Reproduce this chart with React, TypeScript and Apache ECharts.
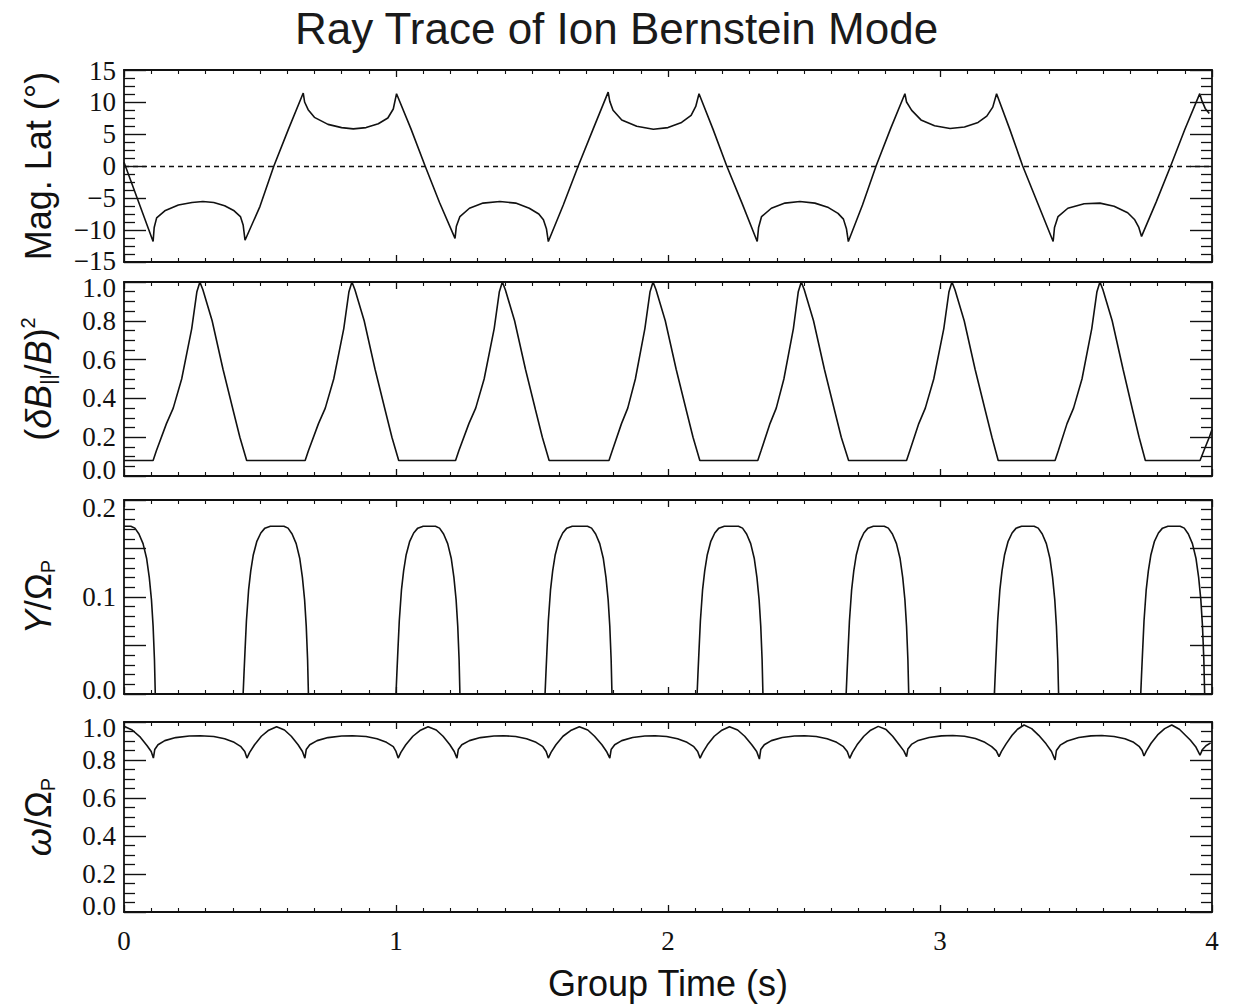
import React, { useEffect, useRef } from "react";
import * as echarts from "echarts";

// ---------------- data ----------------
const TITLE = "Ray Trace of Ion Bernstein Mode";
const X_NAME = "Group Time (s)";
const X_RANGE = [0, 4];

const Y_NAMES = [
  "Mag. Lat (°)",
  "({i|δB}{sub|||}/{i|B}){sup|2}",
  "{i|Y}/Ω{sub|P}",
  "{i|ω}/Ω{sub|P}",
];

// Magnetic latitude (deg) vs group time (s)
const magLat: [number, number][] = [
  [0.0, 0.6], [0.05, -5.2], [0.107, -11.8],
  [0.111, -9.6], [0.12, -8.1], [0.15, -7.0], [0.2, -6.1], [0.25, -5.7], [0.29, -5.55], [0.33, -5.7], [0.37, -6.2], [0.405, -7.0], [0.428, -7.9], [0.438, -9.2], [0.445, -11.6],
  [0.5, -6.3], [0.551, 0], [0.605, 5.8], [0.659, 11.4],
  [0.664, 10.0], [0.677, 8.8], [0.7, 7.6], [0.75, 6.5], [0.8, 6.0], [0.843, 5.8], [0.89, 6.0], [0.935, 6.6], [0.97, 7.5], [0.99, 8.9], [1.002, 11.3],
  [1.055, 5.8], [1.107, 0], [1.16, -5.7], [1.217, -11.3],
  [1.222, -9.4], [1.235, -7.9], [1.27, -6.6], [1.32, -5.8], [1.382, -5.55], [1.44, -5.8], [1.49, -6.6], [1.525, -7.5], [1.542, -8.4], [1.553, -9.8], [1.56, -11.8],
  [1.615, -6.1], [1.67, 0], [1.725, 5.8], [1.78, 11.55],
  [1.786, 10.1], [1.798, 8.7], [1.83, 7.2], [1.885, 6.2], [1.946, 5.75], [2.0, 6.0], [2.05, 6.8], [2.085, 7.9], [2.102, 9.3], [2.114, 11.3],
  [2.165, 5.8], [2.216, 0], [2.272, -5.8], [2.328, -11.8],
  [2.333, -9.6], [2.344, -7.9], [2.38, -6.6], [2.43, -5.8], [2.485, -5.55], [2.54, -5.8], [2.59, -6.5], [2.625, -7.4], [2.645, -8.3], [2.656, -9.8], [2.663, -11.8],
  [2.715, -6.1], [2.765, 0], [2.818, 5.8], [2.871, 11.3],
  [2.877, 10.0], [2.896, 8.7], [2.93, 7.2], [2.98, 6.3], [3.037, 5.86], [3.09, 6.1], [3.14, 6.8], [3.172, 7.8], [3.194, 9.2], [3.208, 11.3],
  [3.256, 5.8], [3.304, 0], [3.36, -5.9], [3.416, -11.8],
  [3.421, -9.6], [3.434, -7.9], [3.47, -6.6], [3.53, -5.9], [3.588, -5.8], [3.64, -6.3], [3.69, -7.3], [3.716, -8.4], [3.731, -9.6], [3.741, -11.0],
  [3.795, -5.6], [3.848, 0], [3.9, 5.7], [3.955, 11.3],
  [3.962, 10.3], [3.975, 9.0], [3.99, 8.2],
];

// (dB_par / B)^2
const dbPar: [number, number][] = [
  [0, 0.08], [0.107, 0.08],
  [0.119, 0.13], [0.156, 0.27], [0.181, 0.35], [0.212, 0.5], [0.249, 0.76], [0.268, 0.95], [0.279, 1.0], [0.29, 0.96],
  [0.324, 0.8], [0.364, 0.55], [0.401, 0.34], [0.426, 0.2], [0.451, 0.08],
  [0.666, 0.08],
  [0.678, 0.13], [0.715, 0.27], [0.74, 0.35], [0.771, 0.5], [0.808, 0.76], [0.827, 0.95], [0.838, 1.0], [0.849, 0.96],
  [0.883, 0.8], [0.923, 0.55], [0.96, 0.34], [0.985, 0.2], [1.01, 0.08],
  [1.219, 0.08],
  [1.231, 0.13], [1.268, 0.27], [1.293, 0.35], [1.324, 0.5], [1.361, 0.76], [1.38, 0.95], [1.391, 1.0], [1.402, 0.96],
  [1.436, 0.8], [1.476, 0.55], [1.513, 0.34], [1.538, 0.2], [1.563, 0.08],
  [1.783, 0.08],
  [1.795, 0.13], [1.829, 0.27], [1.852, 0.35], [1.88, 0.5], [1.915, 0.76], [1.934, 0.95], [1.945, 1.0], [1.956, 0.96],
  [1.99, 0.8], [2.03, 0.55], [2.067, 0.34], [2.092, 0.2], [2.117, 0.08],
  [2.33, 0.08],
  [2.342, 0.13], [2.375, 0.27], [2.398, 0.35], [2.426, 0.5], [2.461, 0.76], [2.479, 0.95], [2.49, 1.0], [2.501, 0.96],
  [2.535, 0.8], [2.575, 0.55], [2.612, 0.34], [2.637, 0.2], [2.664, 0.08],
  [2.877, 0.08],
  [2.889, 0.13], [2.922, 0.27], [2.946, 0.35], [2.977, 0.5], [3.014, 0.76], [3.033, 0.95], [3.044, 1.0], [3.055, 0.96],
  [3.089, 0.8], [3.129, 0.55], [3.166, 0.34], [3.191, 0.2], [3.214, 0.08],
  [3.423, 0.08],
  [3.435, 0.13], [3.467, 0.27], [3.491, 0.35], [3.522, 0.5], [3.558, 0.76], [3.577, 0.95], [3.588, 1.0], [3.599, 0.96],
  [3.633, 0.8], [3.673, 0.55], [3.708, 0.34], [3.732, 0.2], [3.755, 0.08],
  [3.956, 0.08], [3.97, 0.13], [3.99, 0.2], [4.0, 0.24],
];

// gamma / Omega_p
const gammaRate: [number, number][] = [
  [0, 0.173], [0.025, 0.173], [0.04, 0.171], [0.055, 0.165], [0.07, 0.155], [0.083, 0.14], [0.093, 0.12], [0.101, 0.097], [0.107, 0.07], [0.112, 0.035], [0.115, 0],
  [0.438, 0], [0.441, 0.02], [0.445, 0.045], [0.45, 0.075], [0.458, 0.107], [0.466, 0.127], [0.475, 0.143], [0.488, 0.157], [0.503, 0.166], [0.518, 0.171], [0.538, 0.173],
  [0.588, 0.173], [0.603, 0.171], [0.618, 0.165], [0.633, 0.155], [0.646, 0.14], [0.656, 0.12], [0.664, 0.097], [0.67, 0.07], [0.675, 0.035], [0.678, 0],
  [1.0, 0], [1.003, 0.02], [1.007, 0.045], [1.012, 0.075], [1.02, 0.107], [1.028, 0.127], [1.037, 0.143], [1.05, 0.157], [1.065, 0.166], [1.08, 0.171], [1.1, 0.173],
  [1.145, 0.173], [1.16, 0.171], [1.175, 0.165], [1.19, 0.155], [1.203, 0.14], [1.213, 0.12], [1.221, 0.097], [1.227, 0.07], [1.232, 0.035], [1.235, 0],
  [1.548, 0], [1.551, 0.02], [1.555, 0.045], [1.56, 0.075], [1.568, 0.107], [1.576, 0.127], [1.585, 0.143], [1.598, 0.157], [1.613, 0.166], [1.628, 0.171], [1.648, 0.173],
  [1.704, 0.173], [1.719, 0.171], [1.734, 0.165], [1.749, 0.155], [1.762, 0.14], [1.772, 0.12], [1.78, 0.097], [1.786, 0.07], [1.791, 0.035], [1.794, 0],
  [2.107, 0], [2.11, 0.02], [2.114, 0.045], [2.119, 0.075], [2.127, 0.107], [2.135, 0.127], [2.144, 0.143], [2.157, 0.157], [2.172, 0.166], [2.187, 0.171], [2.207, 0.173],
  [2.259, 0.173], [2.274, 0.171], [2.289, 0.165], [2.304, 0.155], [2.317, 0.14], [2.327, 0.12], [2.335, 0.097], [2.341, 0.07], [2.346, 0.035], [2.349, 0],
  [2.655, 0], [2.658, 0.02], [2.662, 0.045], [2.667, 0.075], [2.675, 0.107], [2.683, 0.127], [2.692, 0.143], [2.705, 0.157], [2.72, 0.166], [2.735, 0.171], [2.755, 0.173],
  [2.795, 0.173], [2.81, 0.171], [2.825, 0.165], [2.84, 0.155], [2.853, 0.14], [2.863, 0.12], [2.871, 0.097], [2.877, 0.07], [2.882, 0.035], [2.885, 0],
  [3.2, 0], [3.203, 0.02], [3.207, 0.045], [3.212, 0.075], [3.22, 0.107], [3.228, 0.127], [3.237, 0.143], [3.25, 0.157], [3.265, 0.166], [3.28, 0.171], [3.3, 0.173],
  [3.346, 0.173], [3.361, 0.171], [3.376, 0.165], [3.391, 0.155], [3.404, 0.14], [3.414, 0.12], [3.422, 0.097], [3.428, 0.07], [3.433, 0.035], [3.436, 0],
  [3.738, 0], [3.741, 0.02], [3.745, 0.045], [3.75, 0.075], [3.758, 0.107], [3.766, 0.127], [3.775, 0.143], [3.788, 0.157], [3.803, 0.166], [3.818, 0.171], [3.838, 0.173],
  [3.883, 0.173], [3.898, 0.171], [3.913, 0.165], [3.928, 0.155], [3.941, 0.14], [3.951, 0.12], [3.959, 0.097], [3.965, 0.07], [3.97, 0.035], [3.973, 0], [4.0, 0],
];

// omega / Omega_p
const omegaRatio: [number, number][] = [
  [0, 0.978], [0.03, 0.958], [0.06, 0.92], [0.085, 0.875], [0.1, 0.845], [0.108, 0.81],
  [0.113, 0.855], [0.125, 0.88], [0.15, 0.902], [0.19, 0.918], [0.24, 0.926], [0.28, 0.928], [0.33, 0.924], [0.37, 0.912], [0.405, 0.893], [0.43, 0.87], [0.444, 0.845], [0.452, 0.81],
  [0.462, 0.84], [0.48, 0.88], [0.505, 0.925], [0.53, 0.955], [0.561, 0.975], [0.59, 0.958], [0.615, 0.925], [0.64, 0.88], [0.656, 0.845], [0.665, 0.81],
  [0.67, 0.855], [0.683, 0.88], [0.71, 0.902], [0.75, 0.918], [0.8, 0.926], [0.84, 0.928], [0.89, 0.924], [0.93, 0.912], [0.965, 0.893], [0.99, 0.87], [1.0, 0.845], [1.008, 0.81],
  [1.018, 0.84], [1.036, 0.88], [1.062, 0.925], [1.088, 0.955], [1.118, 0.975], [1.148, 0.958], [1.173, 0.925], [1.198, 0.88], [1.214, 0.845], [1.224, 0.81],
  [1.229, 0.855], [1.242, 0.88], [1.27, 0.902], [1.31, 0.918], [1.36, 0.926], [1.395, 0.928], [1.44, 0.924], [1.48, 0.912], [1.515, 0.893], [1.54, 0.87], [1.552, 0.845], [1.56, 0.81],
  [1.57, 0.84], [1.588, 0.88], [1.614, 0.925], [1.642, 0.955], [1.674, 0.975], [1.705, 0.958], [1.73, 0.925], [1.757, 0.88], [1.774, 0.845], [1.786, 0.81],
  [1.791, 0.855], [1.804, 0.88], [1.83, 0.902], [1.87, 0.918], [1.915, 0.926], [1.952, 0.928], [1.995, 0.924], [2.035, 0.912], [2.07, 0.893], [2.095, 0.87], [2.109, 0.845], [2.118, 0.81],
  [2.128, 0.84], [2.145, 0.88], [2.17, 0.925], [2.196, 0.955], [2.226, 0.975], [2.256, 0.958], [2.282, 0.925], [2.308, 0.88], [2.326, 0.845], [2.336, 0.805],
  [2.341, 0.855], [2.354, 0.88], [2.38, 0.902], [2.42, 0.918], [2.465, 0.926], [2.502, 0.928], [2.545, 0.924], [2.585, 0.912], [2.62, 0.893], [2.645, 0.87], [2.659, 0.845], [2.668, 0.809],
  [2.678, 0.84], [2.695, 0.88], [2.72, 0.925], [2.745, 0.957], [2.773, 0.977], [2.802, 0.96], [2.826, 0.925], [2.85, 0.88], [2.867, 0.848], [2.877, 0.818],
  [2.882, 0.858], [2.895, 0.882], [2.92, 0.903], [2.96, 0.918], [3.005, 0.927], [3.047, 0.929], [3.09, 0.925], [3.13, 0.913], [3.165, 0.893], [3.19, 0.87], [3.207, 0.848], [3.217, 0.818],
  [3.226, 0.845], [3.243, 0.885], [3.265, 0.93], [3.285, 0.962], [3.309, 0.984], [3.337, 0.965], [3.363, 0.93], [3.39, 0.885], [3.41, 0.845], [3.423, 0.8],
  [3.428, 0.85], [3.442, 0.878], [3.468, 0.9], [3.51, 0.918], [3.555, 0.927], [3.595, 0.929], [3.64, 0.924], [3.68, 0.912], [3.712, 0.893], [3.733, 0.87], [3.743, 0.85], [3.75, 0.821],
  [3.759, 0.848], [3.776, 0.888], [3.8, 0.932], [3.826, 0.965], [3.852, 0.984], [3.88, 0.962], [3.92, 0.905], [3.94, 0.87], [3.956, 0.826],
  [3.965, 0.855], [3.978, 0.875], [3.995, 0.89],
];

// ---------------- styling / layout ----------------
const SANS = "'Liberation Sans', Arial, sans-serif";
const SERIF = "'Liberation Serif', 'Times New Roman', serif";
const INK = "#111";
const LABEL_SIZE = 27;

const GRIDS = [
  { top: 70, height: 192 },
  { top: 282, height: 194 },
  { top: 500, height: 194 },
  { top: 722, height: 190 },
];

const fmt1 = (v: number) => v.toFixed(1);

const PANELS = [
  {
    data: magLat, min: -15, max: 15, interval: 5, minorSplit: 4,
    fmt: (v: number) => String(v).replace("-", "\u2212"),
    hiShift: 1, loShift: 1,
  },
  { data: dbPar, min: 0, max: 1, interval: 0.2, minorSplit: 4, fmt: fmt1, hiShift: 6, loShift: 6 },
  {
    data: gammaRate, min: 0, max: 0.2, interval: 0.05, minorSplit: 5,
    fmt: (v: number) => (Math.abs(v * 10 - Math.round(v * 10)) < 1e-6 ? v.toFixed(1) : ""),
    hiShift: 8, loShift: 4,
  },
  { data: omegaRatio, min: 0, max: 1, interval: 0.2, minorSplit: 4, fmt: fmt1, hiShift: 6, loShift: 6 },
];

const near = (a: number, b: number) => Math.abs(a - b) < 1e-9;

function buildOption() {
  const grid: any[] = [];
  const xAxis: any[] = [];
  const yAxis: any[] = [];
  const series: any[] = [];
  const lineStyle = { color: INK, width: 1.8 };
  const labelFont = { fontFamily: SERIF, fontSize: LABEL_SIZE, color: INK };

  PANELS.forEach((p, i) => {
    grid.push({ left: 124, right: 21, top: GRIDS[i].top, height: GRIDS[i].height });
    const isLast = i === PANELS.length - 1;
    const xStart = xAxis.length;
    ["bottom", "top"].forEach((pos) => {
      xAxis.push({
        type: "value",
        gridIndex: i,
        position: pos,
        min: X_RANGE[0],
        max: X_RANGE[1],
        interval: 1,
        axisLine: { show: true, onZero: false, lineStyle },
        axisTick: { show: true, inside: true, length: 7, lineStyle: { color: INK, width: 1.3 } },
        minorTick: { show: true, splitNumber: 10, length: 4, lineStyle: { color: INK, width: 1.1 } },
        splitLine: { show: false },
        minorSplitLine: { show: false },
        axisLabel: {
          show: isLast && pos === "bottom",
          margin: 15,
          ...labelFont,
          showMinLabel: true,
          showMaxLabel: true,
        },
        name: isLast && pos === "bottom" ? X_NAME : "",
        nameLocation: "middle",
        nameGap: 53,
        nameTextStyle: { fontFamily: SANS, fontSize: 36, color: INK },
      });
    });

    const yStart = yAxis.length;
    ["left", "right"].forEach((pos) => {
      yAxis.push({
        type: "value",
        gridIndex: i,
        position: pos,
        min: p.min,
        max: p.max,
        interval: p.interval,
        axisLine: { show: true, onZero: false, lineStyle },
        axisTick: { show: true, inside: true, length: 22, lineStyle: { color: INK, width: 1.4 } },
        minorTick: { show: true, splitNumber: p.minorSplit, length: 11, lineStyle: { color: INK, width: 1.3 } },
        splitLine: { show: false },
        minorSplitLine: { show: false },
        axisLabel: {
          show: pos === "left",
          showMinLabel: false,
          showMaxLabel: false,
          margin: 8,
          ...labelFont,
          formatter: (v: number) => (near(v, p.min) || near(v, p.max) ? "" : p.fmt(v)),
        },
        name: pos === "left" ? Y_NAMES[i] : "",
        nameLocation: "middle",
        nameRotate: 90,
        nameGap: 66,
        nameTextStyle: {
          fontFamily: SANS,
          fontSize: 36,
          color: INK,
          lineHeight: 40,
          rich: {
            i: { fontFamily: SANS, fontSize: 36, fontStyle: "italic", color: INK, lineHeight: 40 },
            sub: { fontFamily: SANS, fontSize: 20, color: INK, lineHeight: 40, verticalAlign: "bottom" },
            sup: { fontFamily: SANS, fontSize: 20, color: INK, lineHeight: 40, verticalAlign: "top" },
          },
        },
      });
    });
    // helper axis that only carries the end labels (nudged inward like the original)
    yAxis.push({
      type: "value",
      gridIndex: i,
      position: "left",
      min: p.min,
      max: p.max,
      interval: p.interval,
      axisLine: { show: false, onZero: false },
      axisTick: { show: false },
      minorTick: { show: false },
      splitLine: { show: false },
      axisLabel: {
        show: true,
        showMinLabel: true,
        showMaxLabel: true,
        margin: 8,
        ...labelFont,
        formatter: (v: number) => {
          if (near(v, p.max)) return `{hi|${p.fmt(v)}}`;
          if (near(v, p.min)) return `{lo|${p.fmt(v)}}`;
          return "";
        },
        rich: {
          hi: { ...labelFont, lineHeight: LABEL_SIZE + 2 * p.hiShift, verticalAlign: "bottom" },
          lo: { ...labelFont, lineHeight: LABEL_SIZE + 2 * p.loShift, verticalAlign: "top" },
        },
      },
    });

    const s: any = {
      type: "line",
      xAxisIndex: xStart,
      yAxisIndex: yStart,
      data: p.data,
      showSymbol: false,
      symbol: "none",
      lineStyle: { color: INK, width: 1.6 },
      z: 3,
    };
    if (i === 0) {
      s.markLine = {
        silent: true,
        symbol: ["none", "none"],
        label: { show: false },
        lineStyle: { color: INK, width: 1.3, type: [5, 4] },
        data: [{ yAxis: 0 }],
      };
    }
    series.push(s);
  });

  return {
    animation: false,
    backgroundColor: "#ffffff",
    title: {
      text: TITLE,
      left: "center",
      top: 1,
      textStyle: { fontFamily: SANS, fontSize: 44, fontWeight: "normal", color: "#1a1a1a" },
    },
    grid,
    xAxis,
    yAxis,
    series,
  };
}

export default function App() {
  const ref = useRef<HTMLDivElement>(null);
  useEffect(() => {
    document.body.style.margin = "0";
    if (!ref.current) return;
    const chart = echarts.init(ref.current, undefined, { renderer: "svg" });
    chart.setOption(buildOption() as any);
    return () => chart.dispose();
  }, []);
  return (
    <div
      ref={ref}
      style={{ position: "absolute", left: 0, top: 0, width: 1233, height: 1006, background: "#fff" }}
    />
  );
}
